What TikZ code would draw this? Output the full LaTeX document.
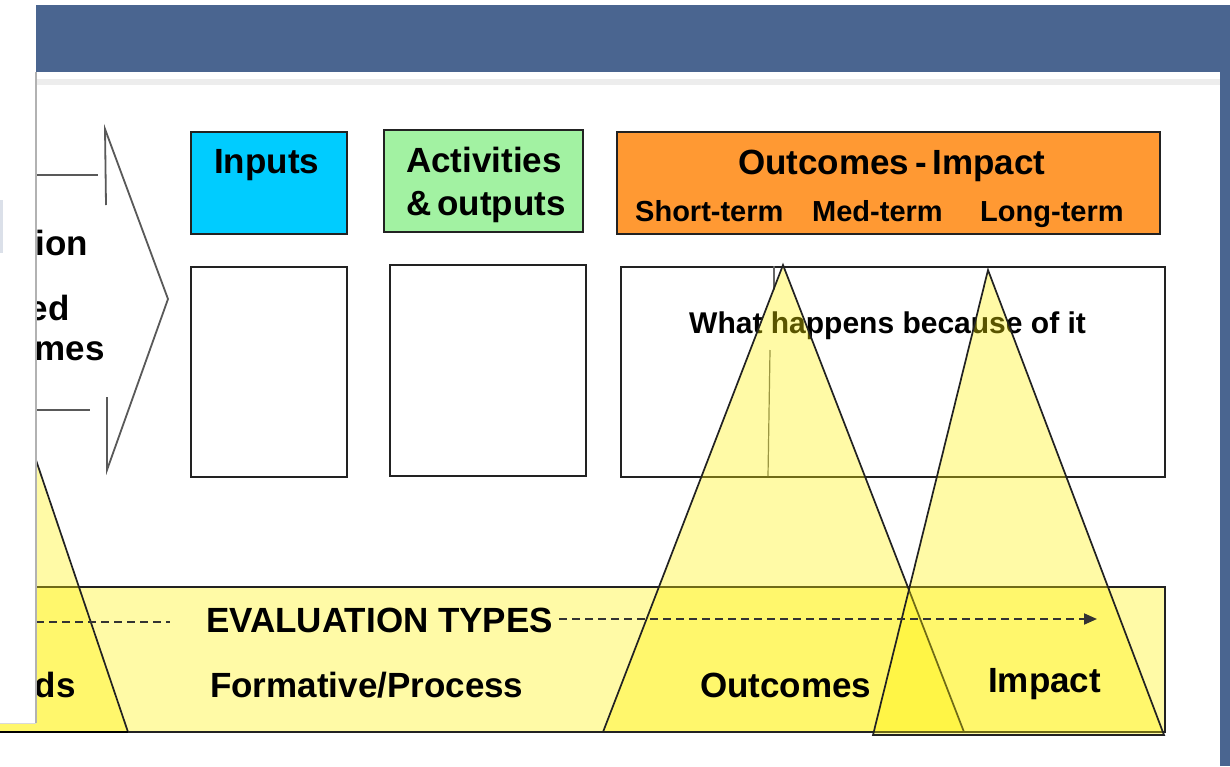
\documentclass[tikz,border=0pt]{standalone}
\usepackage{fontspec}
\setmainfont{Liberation Sans}
\usetikzlibrary{arrows.meta}
\definecolor{bandblue}{HTML}{4A6590}
\definecolor{inpcyan}{HTML}{00CCFF}
\definecolor{actgreen}{HTML}{A2F2A2}
\definecolor{outorange}{HTML}{FF9933}
\definecolor{linegray}{HTML}{222222}
\tikzset{
  boxshape/.style={draw=linegray, line width=2pt, inner sep=0pt, anchor=north west},
  big/.style={font=\bfseries\fontsize{35}{40}\selectfont, inner sep=0pt, anchor=base west},
  mid/.style={font=\bfseries\fontsize{29}{34}\selectfont, inner sep=0pt, anchor=base west},
  sml/.style={font=\bfseries\fontsize{30}{34}\selectfont, inner sep=0pt, anchor=base west},
  yel/.style={fill=yellow, fill opacity=0.35, draw=linegray, line width=1.7pt},
  arrline/.style={draw=black!65, line width=1.8pt},
  dashline/.style={draw=black!80, line width=2pt, dash pattern=on 8pt off 5pt}
}
\begin{document}
\begin{tikzpicture}[x=1pt,y=-1pt]
\useasboundingbox (0,0) rectangle (1230,766);
\clip (0,0) rectangle (1230,766);
\fill[white] (0,0) rectangle (1230,766);
% header band
\fill[bandblue] (36,5) rectangle (1230,72);
\fill[black!7] (36,79) rectangle (1220,85);
\fill[bandblue] (1220,5) rectangle (1230,766);

% left block arrow (partly hidden)
\coordinate (sh1a) at (20,175); \coordinate (sh1b) at (98,175);
\coordinate (sh2a) at (20,410); \coordinate (sh2b) at (90,410);
\coordinate (hb1) at (105,129); \coordinate (hb2) at (106,205);
\coordinate (tip) at (168,299);
\coordinate (hb3) at (107,397); \coordinate (hb4) at (107,470);
\draw[arrline] (sh1a) -- (sh1b);
\draw[arrline] (sh2a) -- (sh2b);
\draw[arrline, line join=miter] (hb2) -- (hb1) -- (tip) -- (hb4) -- (hb3);
\node[big, anchor=base east] (t-ion) at (88,255) {ion};
\node[big, anchor=base east] (t-ed) at (70,320) {ed};
\node[big, anchor=base east] (t-mes) at (105,360) {mes};

% header boxes
\node[boxshape, fill=inpcyan, minimum width=156pt, minimum height=102pt] (inhdr) at (190,131) {};
\node[boxshape, fill=actgreen, minimum width=199pt, minimum height=102pt] (acthdr) at (383,129) {};
\node[boxshape, fill=outorange, minimum width=543pt, minimum height=102pt] (outhdr) at (616,131) {};
\node[big] (t-inputs) at (214,173) {Inputs};
\node[big] (t-act1) at (406,172) {Activities};
\node[big] (t-act2) at (406,215) {\&\,outputs};
\node[big] (t-oi) at (738,174) {Outcomes\,-\,Impact};
\node[mid] (t-st) at (635,221) {Short-term};
\node[mid] (t-mt) at (812,221) {Med-term};
\node[mid] (t-lt) at (980,221) {Long-term};

% white boxes
\node[boxshape, fill=white, minimum width=156pt, minimum height=210pt] (inbox) at (190,266) {};
\node[boxshape, fill=white, minimum width=196pt, minimum height=211pt] (actbox) at (389,264) {};
\node[boxshape, fill=white, minimum width=544pt, minimum height=210pt] (outbox) at (620,266) {};
\node[sml] (t-what) at (689,333) {What happens because of it};
\coordinate (vl1) at (770,350); \coordinate (vl2) at (768,476);
\draw[draw=black!60, line width=1.2pt] (vl1) -- (vl2);
\coordinate (tk1) at (774,266); \coordinate (tk2) at (774,290);
\draw[draw=black!60, line width=1.2pt] (tk1) -- (tk2);

% evaluation band
\filldraw[yel] (-5,587) rectangle (1165,732);
% triangles
\filldraw[yel] (-8,330) -- (128,732) -- (-150,732) -- cycle;
\filldraw[yel] (603,732) -- (783,265) -- (964,732) -- cycle;
\filldraw[yel] (873,735) -- (988,270) -- (1164,735) -- cycle;
\draw[line width=2.5pt, black] (0,732) -- (128,732);

% band texts
\node[big] (t-eval) at (206,632) {EVALUATION TYPES};
\coordinate (dl1) at (36,622); \coordinate (dl2) at (170,622);
\draw[dashline] (dl1) -- (dl2);
\coordinate (arrend) at (1097,619);
\draw[dashline, -{Triangle[length=13pt,width=11pt]}] (t-eval.east |- arrend) ++(6,0) -- (arrend);
\node[big] (t-form) at (210,697) {Formative/Process};
\node[big] (t-outc) at (700,697) {Outcomes};
\node[big] (t-imp) at (988,692) {Impact};
\node[big, anchor=base east] (t-ds) at (76,697) {ds};

% left white panel
\fill[white] (-2,-2) rectangle (36,723);
\draw[black!30, line width=1.5pt] (36,72) -- (36,723);
\draw[black!15, line width=0.8pt] (0,723) -- (36,723);
\fill[bandblue!20] (0,200) rectangle (3,253);
\end{tikzpicture}
\end{document}
